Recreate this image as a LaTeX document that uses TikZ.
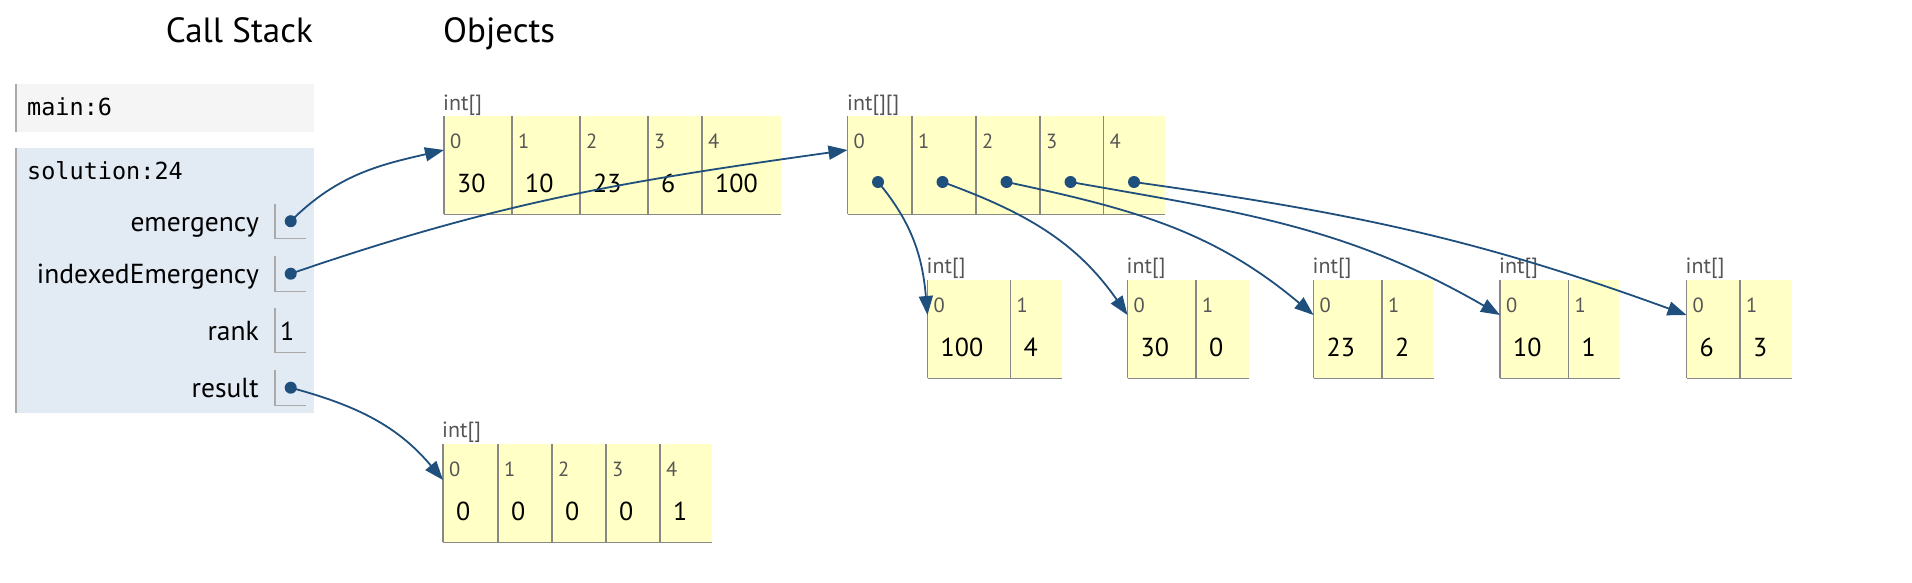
\documentclass[tikz,border=0pt]{standalone}
\usepackage{fontspec}
\setmainfont{PT Sans}
\setmonofont{DejaVu Sans Mono}
\usetikzlibrary{arrows.meta,positioning}
\definecolor{cellyellow}{HTML}{FFFFC6}
\definecolor{frameblue}{HTML}{E2EAF4}
\definecolor{framegrey}{HTML}{F5F5F5}
\definecolor{frameline}{HTML}{AAAAAA}
\definecolor{cellline}{HTML}{888888}
\definecolor{idxgrey}{HTML}{555555}
\definecolor{ptrblue}{HTML}{1F4F7D}

\begin{document}
\begin{tikzpicture}[x=1pt,y=1pt,
    cell/.style={fill=cellyellow,minimum height=98,inner sep=0pt,anchor=north west},
    border/.style={cellline,line width=1.5pt},
    idx/.style={idxgrey,font=\fontsize{20.5}{24}\selectfont,anchor=base west,inner sep=0pt},
    val/.style={font=\fontsize{26}{30}\selectfont,anchor=base west,inner sep=0pt},
    tag/.style={idx,font=\fontsize{22}{26}\selectfont},
    title/.style={font=\fontsize{35}{40}\selectfont,inner sep=0pt},
    frame/.style={minimum width=298,inner sep=0pt,anchor=north west},
    fname/.style={font=\ttfamily\fontsize{23.5}{26}\selectfont,anchor=base west,inner sep=0pt},
    varname/.style={font=\fontsize{27.5}{31}\selectfont,anchor=base east,inner sep=0pt},
    varbox/.style={minimum width=31,inner sep=0pt,anchor=north west},
    dot/.style={circle,fill=ptrblue,inner sep=0pt,minimum size=12},
    ptr/.style={ptrblue,line width=1.8pt,-{Triangle[length=19pt,width=14pt]}}]
    \useasboundingbox (0,0) rectangle (1912,-582);

    % call stack
    \node[title,anchor=base east] (cstitle) at (313,-42) {Call Stack};
    \node[title,anchor=base west] (objtitle) at (443,-42) {Objects};
    \node[frame,fill=framegrey,minimum height=48] (mainfr) at (16,-84) {};
    \draw[frameline,line width=1.5pt] (mainfr.north west) -- (mainfr.south west);
    \node[fname] (mainlbl) at (27,-115) {main:6};
    \node[frame,fill=frameblue,minimum height=265] (solfr) at (16,-148) {};
    \draw[frameline,line width=1.5pt] (solfr.north west) -- (solfr.south west);
    \node[fname] (sollbl) at (27,-179) {solution:24};
    \foreach \nm/\lbl/\tp/\hh/\bl in {emg/emergency/204/34/231,ie/indexedEmergency/256/35/283,
        rank/rank/308/44/340,res/result/370/35/397}{
      \node[varname] (n\nm) at (259,-\bl) {\lbl};
      \node[varbox,minimum height=\hh] (b\nm) at (275,-\tp) {};
      \draw[frameline,line width=1.5pt] (b\nm.north west) -- (b\nm.south west) -- (b\nm.south east);
    }
    \node[dot] (pemg) at (bemg) {};
    \node[dot] (pie) at (bie) {};
    \node[dot] (pres) at (bres) {};
    \node[val] (vrank) at (280,-340) {1};

    % int[] emergency
    \node[tag] (tagemg) at (443,-110) {int[]};
    \foreach \ix/\xl/\cw/\vl in {0/444/68/30,1/512/68/10,2/580/68/23,3/648/54/6,4/702/79/100}{
      \node[cell,minimum width=\cw] (emg\ix) at (\xl,-116) {};
      \draw[border] (emg\ix.north west) -- (emg\ix.south west);
      \node[idx] (emgi\ix) at ([xshift=6pt,yshift=-32pt]emg\ix.north west) {\ix};
      \node[val] (emgv\ix) at ([xshift=13pt,yshift=-76pt]emg\ix.north west) {\vl};
    }
    \draw[border] (emg0.south west) -- (emg4.south east);

    % int[][] indexedEmergency
    \node[tag] (tagie) at (847,-110) {int[][]};
    \foreach \ix/\xl/\cw in {0/847.5/64.5,1/912/64,2/976/64,3/1040/63.5,4/1103.5/61.5}{
      \node[cell,minimum width=\cw] (ie\ix) at (\xl,-116) {};
      \draw[border] (ie\ix.north west) -- (ie\ix.south west);
      \node[idx] (iei\ix) at ([xshift=6pt,yshift=-32pt]ie\ix.north west) {\ix};
      \node[dot] (dot\ix) at ([xshift=30.5pt,yshift=-66pt]ie\ix.north west) {};
    }
    \draw[border] (ie0.south west) -- (ie4.south east);

    % rows of indexedEmergency
    \foreach \rw/\xl/\wa/\va/\wb/\vb in {A/927.5/82.5/100/51/4,B/1127.5/68/30/52.5/0,
        C/1313.5/68/23/51.5/2,D/1500/68/10/51/1,E/1686.5/53/6/52/3}{
      \node[tag] (tag\rw) at (\xl-1,-273) {int[]};
      \node[cell,minimum width=\wa] (row\rw0) at (\xl,-280) {};
      \node[cell,minimum width=\wb,right=0pt of row\rw0] (row\rw1) {};
      \foreach \ix/\vl in {0/\va,1/\vb}{
        \draw[border] (row\rw\ix.north west) -- (row\rw\ix.south west);
        \node[idx] at ([xshift=6pt,yshift=-32pt]row\rw\ix.north west) {\ix};
        \node[val] at ([xshift=13pt,yshift=-76pt]row\rw\ix.north west) {\vl};
      }
      \draw[border] (row\rw0.south west) -- (row\rw1.south east);
    }

    % int[] result
    \node[tag] (tagres) at (442,-437) {int[]};
    \foreach \ix/\xl/\cw/\vl in {0/443/55/0,1/498/54/0,2/552/54/0,3/606/54/0,4/660/52/1}{
      \node[cell,minimum width=\cw] (res\ix) at (\xl,-444) {};
      \draw[border] (res\ix.north west) -- (res\ix.south west);
      \node[idx] (resi\ix) at ([xshift=6pt,yshift=-32pt]res\ix.north west) {\ix};
      \node[val] (resv\ix) at ([xshift=13pt,yshift=-76pt]res\ix.north west) {\vl};
    }
    \draw[border] (res0.south west) -- (res4.south east);

    % pointers
    \draw[ptr] (pemg.center) to[out=45,in=193] ([yshift=-34pt]emg0.north west);
    \draw[ptr] (pie.center) to[out=19,in=188] ([yshift=-34pt]ie0.north west);
    \draw[ptr] (pres.center) to[out=-15,in=130] ([yshift=-36pt]res0.north west);
    \foreach \ix/\rw/\oa/\ob in {0/A/-50/95,1/B/-20/125,2/C/-12/140,3/D/-10/150,4/E/-8/160}{
      \draw[ptr] (dot\ix.center) to[out=\oa,in=\ob] ([yshift=-35pt]row\rw0.north west);
    }
  \end{tikzpicture}
\end{document}
